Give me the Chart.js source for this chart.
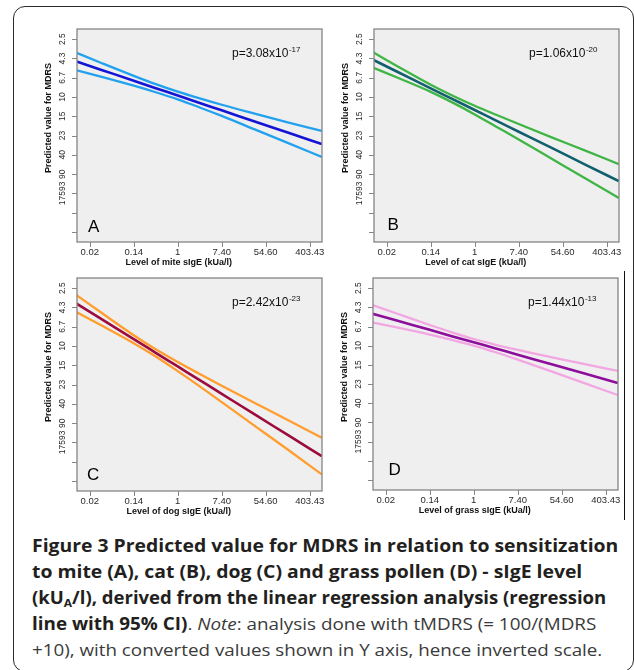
<!DOCTYPE html>
<html><head><meta charset="utf-8">
<script src="https://cdn.jsdelivr.net/npm/chart.js@4.4.1/dist/chart.umd.min.js"></script>
<style>
html,body{margin:0;padding:0;background:#fff;}
body{width:634px;height:670px;position:relative;overflow:hidden;}
.frame{position:absolute;left:13px;top:6px;width:621px;height:666px;border:1.5px solid #2a2a2a;border-radius:12px;box-sizing:border-box;}
.vline{position:absolute;left:624px;top:271px;width:1px;height:249px;background:#111;}
canvas{position:absolute;}
.cap{position:absolute;left:32px;top:532.7px;font-family:'Open Sans','Noto Sans',sans-serif;font-size:17px;line-height:26px;color:#231f20;}
.cap .ln{display:block;width:max-content;white-space:nowrap;transform-origin:0 50%;}
.cap b{font-weight:700;}
.cap .n{color:#3a3a3a;}
.cap sub{font-size:11px;line-height:0;vertical-align:-3px;}
</style></head>
<body>
<div class="frame"></div>
<div class="vline"></div>
<div class="cap" id="cap">
<span class="ln"><b>Figure 3 Predicted value for MDRS in relation to sensitization</b></span>
<span class="ln"><b>to mite (A), cat (B), dog (C) and grass pollen (D) - sIgE level</b></span>
<span class="ln"><b>(kU<sub>A</sub>/l), derived from the linear regression analysis (regression</b></span>
<span class="ln"><b>line with 95% CI)</b><span class="n">. <i>Note</i>: analysis done with tMDRS (= 100/(MDRS</span></span>
<span class="ln"><span class="n">+10), with converted values shown in Y axis, hence inverted scale.</span></span>
</div>
<script>
// ---- data (x = ln of sIgE level, y = tMDRS = 100/(MDRS+10)) ----
const lnIgE = [-4.6, -3.5, -2, -1, 0, 1, 2, 3.5, 5, 6.55];

const miteFit   = [6.84, 6.42, 5.85, 5.46, 5.08, 4.69, 4.31, 3.73, 3.16, 2.56];
const miteUpper = [7.29, 6.78, 6.10, 5.67, 5.28, 4.93, 4.60, 4.14, 3.69, 3.24];
const miteLower = [6.39, 6.06, 5.59, 5.25, 4.88, 4.46, 4.02, 3.32, 2.62, 1.89];

const catFit    = [6.92, 6.30, 5.45, 4.89, 4.33, 3.76, 3.20, 2.36, 1.51, 0.64];
const catUpper  = [7.31, 6.59, 5.64, 5.07, 4.55, 4.07, 3.60, 2.91, 2.23, 1.52];
const catLower  = [6.52, 6.00, 5.27, 4.71, 4.10, 3.45, 2.80, 1.80, 0.80, -0.24];

const dogFit    = [7.20, 6.42, 5.36, 4.65, 3.94, 3.23, 2.52, 1.45, 0.39, -0.71];
const dogUpper  = [7.64, 6.75, 5.56, 4.83, 4.17, 3.55, 2.94, 2.05, 1.16, 0.24];
const dogLower  = [6.76, 6.09, 5.15, 4.46, 3.70, 2.91, 2.09, 0.86, -0.37, -1.66];

const grassFit   = [6.67, 6.31, 5.83, 5.50, 5.18, 4.86, 4.53, 4.05, 3.56, 3.06];
const grassUpper = [7.12, 6.68, 6.08, 5.70, 5.35, 5.05, 4.78, 4.41, 4.05, 3.69];
const grassLower = [6.21, 5.95, 5.58, 5.31, 5.01, 4.66, 4.28, 3.68, 3.06, 2.43];

const yTickValues = [8, 7, 6, 5, 4, 3, 2, 1, 0, -1, -2];
const yTickLabels = ['2.5', '4.3', '6.7', '10', '15', '23', '40', '90', '17593', '', ''];
const xTickValues = [-4, -2, 0, 2, 4, 6];
const xTickLabels = ['0.02', '0.14', '1', '7.40', '54.60', '403.43'];

const panelLetters = ['A', 'B', 'C', 'D'];
const xTitles = ['Level of mite sIgE (kUa/l)', 'Level of cat sIgE (kUa/l)', 'Level of dog sIgE (kUa/l)', 'Level of grass sIgE (kUa/l)'];
const yTitle = 'Predicted value for MDRS';
const pBase = ['p=3.08x10', 'p=1.06x10', 'p=2.42x10', 'p=1.44x10'];
const pExp = ['-17', '-20', '-23', '-13'];

// ---- layout / style (not data) ----
const panels = [
  {rect: [77, 29, 322, 242], fit: miteFit, up: miteUpper, lo: miteLower, ci: '#22a2ee', main: '#1414d6', letter: [11, 10.5]},
  {rect: [374, 29, 619, 242], fit: catFit, up: catUpper, lo: catLower, ci: '#3fb545', main: '#12606e', letter: [13.5, 12.5]},
  {rect: [77, 278, 322, 491], fit: dogFit, up: dogUpper, lo: dogLower, ci: '#ff9d2e', main: '#9c0b3e', letter: [10, 11]},
  {rect: [373, 278, 618, 490], fit: grassFit, up: grassUpper, lo: grassLower, ci: '#f2a6e2', main: '#8e0e9c', letter: [15.5, 15]}
];
const PADL = 60, PADT = 12, PADR = 6, PADB = 30;
const SANS = '"Liberation Sans", Arial, sans-serif';

function decor(i) {
  const p = panels[i];
  return {
    id: 'decor' + i,
    beforeDraw(chart) {
      const {ctx, chartArea: a} = chart;
      ctx.save();
      ctx.fillStyle = '#efefef';
      ctx.fillRect(a.left, a.top, a.right - a.left, a.bottom - a.top);
      ctx.restore();
    },
    afterDraw(chart) {
      const {ctx, chartArea: a, scales: {x, y}} = chart;
      ctx.save();
      ctx.strokeStyle = '#858585';
      ctx.lineWidth = 1.3;
      ctx.strokeRect(a.left, a.top, a.right - a.left, a.bottom - a.top);
      ctx.beginPath();
      yTickValues.forEach(v => {
        const py = Math.round(y.getPixelForValue(v)) + 0.5;
        ctx.moveTo(a.left - 5, py); ctx.lineTo(a.left, py);
      });
      xTickValues.forEach(v => {
        const px = Math.round(x.getPixelForValue(v)) + 0.5;
        ctx.moveTo(px, a.bottom); ctx.lineTo(px, a.bottom + 5);
      });
      ctx.lineWidth = 1;
      ctx.stroke();

      ctx.fillStyle = '#2a2a2a';
      ctx.textAlign = 'center';
      ctx.textBaseline = 'middle';
      ctx.font = '8.5px ' + SANS;
      yTickValues.forEach((v, k) => {
        const lab = yTickLabels[k];
        if (!lab) return;
        ctx.save();
        ctx.translate(a.left - 14.5, y.getPixelForValue(v));
        ctx.rotate(-Math.PI / 2);
        ctx.fillText(lab, 0, 0);
        ctx.restore();
      });
      ctx.font = '9.5px ' + SANS;
      xTickValues.forEach((v, k) => {
        ctx.fillText(xTickLabels[k], x.getPixelForValue(v), a.bottom + 10.5);
      });
      ctx.fillStyle = '#111';
      ctx.font = 'bold 9px ' + SANS;
      ctx.fillText(xTitles[i], x.getPixelForValue(0) + 1, a.bottom + 20.5);
      ctx.save();
      ctx.translate(a.left - 28.5, a.top + 89);
      ctx.rotate(-Math.PI / 2);
      ctx.fillText(yTitle, 0, 0);
      ctx.restore();

      // p-value
      ctx.textAlign = 'left';
      ctx.textBaseline = 'alphabetic';
      ctx.font = '12px ' + SANS;
      const px0 = a.left + 155, py0 = a.top + 28;
      ctx.fillText(pBase[i], px0, py0);
      const w = ctx.measureText(pBase[i]).width;
      ctx.font = '8px ' + SANS;
      ctx.fillText(pExp[i], px0 + w + 0.5, py0 - 5);

      // panel letter
      ctx.font = '17px ' + SANS;
      ctx.fillStyle = '#000';
      ctx.fillText(panelLetters[i], a.left + p.letter[0], a.bottom - p.letter[1]);
      ctx.restore();
    }
  };
}

function pts(arr) { return arr.map((v, k) => ({x: lnIgE[k], y: v})); }

panels.forEach((p, i) => {
  const [l, t, r, b] = p.rect;
  const cv = document.createElement('canvas');
  const W = (r - l) + PADL + PADR, H = (b - t) + PADT + PADB;
  cv.width = W; cv.height = H;
  cv.style.left = (l - PADL) + 'px';
  cv.style.top = (t - PADT) + 'px';
  cv.style.width = W + 'px';
  cv.style.height = H + 'px';
  document.body.appendChild(cv);
  new Chart(cv, {
    type: 'line',
    data: {
      datasets: [
        {data: pts(p.up), borderColor: p.ci, borderWidth: 2.3},
        {data: pts(p.lo), borderColor: p.ci, borderWidth: 2.3},
        {data: pts(p.fit), borderColor: p.main, borderWidth: 2.6}
      ]
    },
    options: {
      responsive: false,
      animation: false,
      devicePixelRatio: 1,
      layout: {padding: {left: PADL, top: PADT, right: PADR, bottom: PADB}},
      elements: {point: {radius: 0}, line: {cubicInterpolationMode: 'monotone', fill: false}},
      plugins: {legend: {display: false}, tooltip: {enabled: false}},
      scales: {
        x: {type: 'linear', display: false, min: -4.58, max: 6.56},
        y: {type: 'linear', display: false, min: -2.52, max: 8.53}
      }
    },
    plugins: [decor(i)]
  });
});

// caption: fit each line to the measured width of the reference
const capWidths = [586.3, 550.3, 574.3, 564.3, 570.3];
document.querySelectorAll('#cap .ln').forEach((el, k) => {
  const w = el.getBoundingClientRect().width;
  el.style.transform = 'scaleX(' + (capWidths[k] / w) + ')';
});
</script>
</body></html>
